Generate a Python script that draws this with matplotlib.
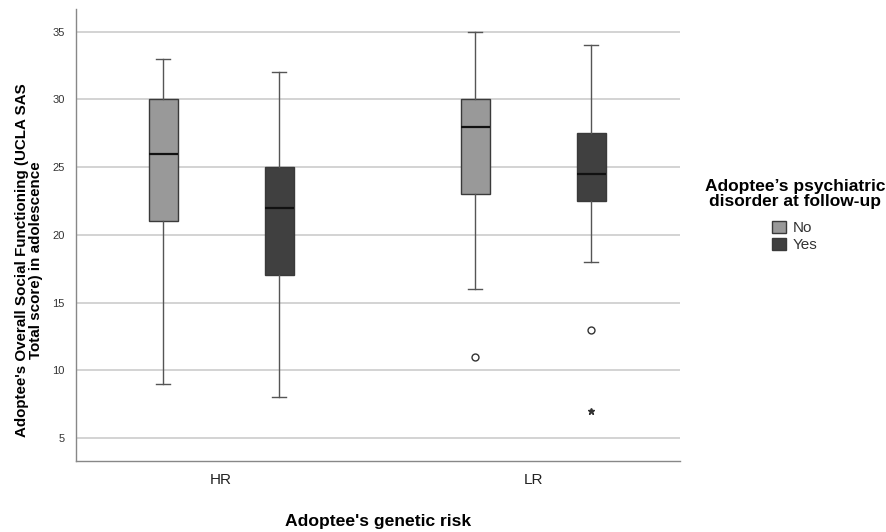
import numpy as np
import matplotlib.pyplot as plt
from matplotlib.patches import Patch

plt.rcParams['font.family'] = ['Liberation Sans', 'DejaVu Sans']

# genetic risk groups and disorder groups
groups = ['HR', 'LR']
disorder = ['No', 'Yes']

# box stats: [whislo, q1, med, q3, whishi]
hr_no = [9, 21, 26, 30, 33]
hr_yes = [8, 17, 22, 25, 32]
lr_no = [16, 23, 28, 30, 35]
lr_yes = [18, 22.5, 24.5, 27.5, 34]

outliers = {('LR', 'No'): [11], ('LR', 'Yes'): [13]}
extremes = {('LR', 'Yes'): [7]}

colors = {'No': '#999999', 'Yes': '#404040'}

fig = plt.figure(figsize=(8.87, 5.32), dpi=100)
ax = fig.add_axes([0.0857, 0.1335, 0.681, 0.85])

stats_tab = {('HR', 'No'): hr_no, ('HR', 'Yes'): hr_yes,
             ('LR', 'No'): lr_no, ('LR', 'Yes'): lr_yes}
off = {'No': -0.186, 'Yes': 0.186}

for gi, g in enumerate(groups):
    for d in disorder:
        s = stats_tab[(g, d)]
        st = dict(whislo=s[0], q1=s[1], med=s[2], q3=s[3], whishi=s[4],
                  fliers=outliers.get((g, d), []))
        pos = gi + off[d]
        ax.bxp([st], positions=[pos], widths=0.093, patch_artist=True,
               showcaps=True, showfliers=True,
               boxprops=dict(facecolor=colors[d], edgecolor='#3a3a3a', linewidth=1.0),
               medianprops=dict(color='#111111', linewidth=1.6),
               whiskerprops=dict(color='#555555', linewidth=1.0),
               capprops=dict(color='#555555', linewidth=1.0),
               capwidths=0.045,
               flierprops=dict(marker='o', markersize=5, markerfacecolor='white',
                               markeredgecolor='#333333', markeredgewidth=1.0),
               zorder=3)
        ex = extremes.get((g, d), [])
        if ex:
            ax.plot([pos] * len(ex), ex, linestyle='none', marker='*',
                    markersize=5, color='#333333', zorder=4)

ax.set_xlim(-0.465, 1.471)
ax.set_ylim(3.3, 36.7)
ax.set_yticks([5, 10, 15, 20, 25, 30, 35])
ax.set_xticks([0, 1])
ax.set_xticklabels(groups, fontsize=11, color='#222222')
ax.tick_params(axis='both', length=0)
ax.tick_params(axis='y', labelsize=8, labelcolor='#333333', pad=8)
ax.tick_params(axis='x', pad=9)
ax.yaxis.grid(True, color='#cccccc', linewidth=1.2, zorder=0)
ax.set_axisbelow(True)
for sp in ['top', 'right']:
    ax.spines[sp].set_visible(False)
for sp in ['left', 'bottom']:
    ax.spines[sp].set_color('#888888')
    ax.spines[sp].set_linewidth(1.0)

ax.set_xlabel("Adoptee's genetic risk", fontsize=12.6, fontweight='bold', labelpad=19)
ax.set_ylabel("Adoptee's Overall Social Functioning (UCLA SAS\nTotal score) in adolescence",
              fontsize=10.9, fontweight='bold', linespacing=1.0)
ax.yaxis.set_label_coords(-0.055, 0.445)

handles = [Patch(facecolor=colors[d], edgecolor='#3a3a3a', label=d) for d in disorder]
leg = fig.legend(handles=handles, loc='center', bbox_to_anchor=(0.896, 0.595),
                 frameon=False, fontsize=11, handlelength=0.92, handleheight=0.92,
                 handletextpad=0.4, labelspacing=0.15, alignment='center',
                 title="Adoptee\u2019s psychiatric\ndisorder at follow-up",
                 title_fontproperties={'weight': 'bold', 'size': 12.5})
leg.get_title().set_linespacing(1.0)
leg.get_title().set_multialignment('center')
leg._legend_box.sep = 8.5  # gap between title and entries
for t in leg.get_texts():
    t.set_color('#333333')

fig.savefig('out.png', dpi=100)
